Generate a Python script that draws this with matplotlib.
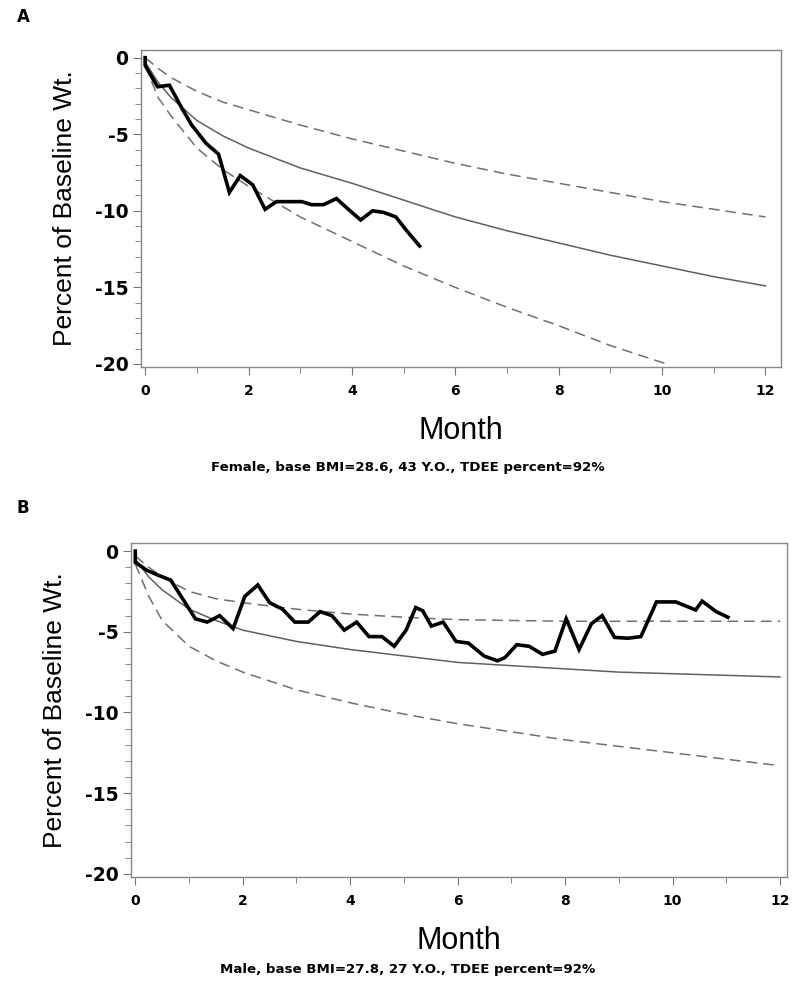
import matplotlib
matplotlib.use("Agg")
import matplotlib.pyplot as plt
from matplotlib import font_manager
from matplotlib.ticker import MultipleLocator

plt.rcParams["axes.unicode_minus"] = False

# pick a narrow font for the big axis labels if there is one
label_font = "DejaVu Sans"
for name in ["Liberation Sans Narrow", "Liberation Sans"]:
    try:
        font_manager.findfont(name, fallback_to_default=False)
        label_font = name
        break
    except Exception:
        pass

# model curve months (shared by both panels)
model_month = [0, 0.25, 0.5, 1, 1.5, 2, 3, 4, 5, 6, 7, 8, 9, 10, 11, 12]

# Panel A - female
a_obs_month = [0, 0.0, 0.24, 0.47, 0.71, 0.9, 1.18, 1.42, 1.63, 1.84, 2.08, 2.32,
               2.54, 3.03, 3.22, 3.45, 3.70, 3.93, 4.17, 4.40, 4.61, 4.85, 5.06, 5.31]
a_obs_pct = [0, -0.5, -1.9, -1.8, -3.3, -4.4, -5.6, -6.3, -8.8, -7.7, -8.3, -9.9,
             -9.4, -9.4, -9.6, -9.6, -9.2, -9.9, -10.6, -10.0, -10.1, -10.4, -11.3, -12.3]
a_mid = [-0.3, -1.6, -2.6, -4.1, -5.1, -5.9, -7.2, -8.2, -9.3, -10.4, -11.3, -12.1,
         -12.9, -13.6, -14.3, -14.9]
a_upper = [0, -0.7, -1.3, -2.2, -2.9, -3.4, -4.4, -5.3, -6.1, -6.9, -7.6, -8.2,
           -8.8, -9.4, -9.9, -10.4]
a_lower_month = [0, 0.25, 0.5, 1, 1.5, 2, 3, 4, 5, 6, 7, 8, 9, 10, 10.1]
a_lower = [-0.5, -2.6, -3.8, -5.9, -7.3, -8.4, -10.4, -12.0, -13.6, -15.0, -16.3,
           -17.5, -18.8, -19.9, -20.0]

# Panel B - male
b_obs_month = [0, 0, 0.22, 0.43, 0.66, 0.89, 1.12, 1.34, 1.57, 1.82, 2.04, 2.28,
               2.50, 2.74, 2.97, 3.22, 3.44, 3.66, 3.89, 4.12, 4.35, 4.59, 4.82,
               5.04, 5.22, 5.35, 5.51, 5.73, 5.97, 6.2, 6.49, 6.74, 6.88, 7.10,
               7.33, 7.58, 7.81, 8.02, 8.26, 8.49, 8.69, 8.92, 9.17, 9.41, 9.70,
               10.06, 10.43, 10.55, 10.81, 11.03]
b_obs_pct = [0, -0.7, -1.2, -1.5, -1.8, -3.0, -4.2, -4.4, -4.0, -4.8, -2.8, -2.1,
             -3.2, -3.6, -4.4, -4.4, -3.75, -4.0, -4.9, -4.4, -5.3, -5.3, -5.9,
             -4.9, -3.5, -3.7, -4.65, -4.4, -5.6, -5.7, -6.5, -6.8, -6.6, -5.8,
             -5.9, -6.4, -6.2, -4.2, -6.1, -4.5, -4.0, -5.35, -5.4, -5.3, -3.15,
             -3.15, -3.65, -3.1, -3.75, -4.1]
b_mid = [-0.5, -1.6, -2.4, -3.6, -4.3, -4.9, -5.6, -6.1, -6.5, -6.9, -7.1, -7.3,
         -7.5, -7.6, -7.7, -7.8]
b_upper = [-0.3, -1.0, -1.6, -2.5, -2.95, -3.2, -3.6, -3.9, -4.1, -4.25, -4.3,
           -4.35, -4.35, -4.35, -4.35, -4.35]
b_lower = [-0.8, -2.8, -4.3, -5.9, -6.8, -7.5, -8.6, -9.4, -10.1, -10.7, -11.2,
           -11.7, -12.1, -12.5, -12.9, -13.3]

captions = ["Female, base BMI=28.6, 43 Y.O., TDEE percent=92%",
            "Male, base BMI=27.8, 27 Y.O., TDEE percent=92%"]

fig = plt.figure(figsize=(8, 9.92), dpi=100)
axA = fig.add_axes([0.17625, 0.630, 0.80, 0.3196])
axB = fig.add_axes([0.16375, 0.1159, 0.82, 0.3367])

panels = [
    (axA, a_obs_month, a_obs_pct, a_mid, a_upper, a_lower_month, a_lower, 12.3),
    (axB, b_obs_month, b_obs_pct, b_mid, b_upper, model_month, b_lower, 12.13),
]

for ax, om, op, mid, up, lm, lo, xmax in panels:
    ax.plot(model_month, mid, color="#606060", lw=1.1)
    ax.plot(model_month, up, color="#707070", lw=1.1, dashes=(7, 4))
    ax.plot(lm, lo, color="#707070", lw=1.1, dashes=(7, 4))
    ax.plot(om, op, color="black", lw=2.6, solid_joinstyle="miter")
    ax.set_xlim(-0.08, xmax)
    ax.set_ylim(-20.2, 0.5)
    ax.xaxis.set_major_locator(MultipleLocator(2))
    ax.xaxis.set_minor_locator(MultipleLocator(1))
    ax.yaxis.set_major_locator(MultipleLocator(5))
    ax.yaxis.set_minor_locator(MultipleLocator(1))
    ax.tick_params(which="both", direction="out", color="#777777")
    ax.tick_params(which="major", length=6)
    ax.tick_params(which="minor", length=4)
    ax.tick_params(axis="y", labelsize=13.5, pad=3)
    ax.tick_params(axis="x", labelsize=10, pad=6)
    for lab in ax.get_xticklabels() + ax.get_yticklabels():
        lab.set_fontweight("bold")
    for sp in ax.spines.values():
        sp.set_color("#888888")
        sp.set_linewidth(1.0)
    ax.set_xlabel("Month", fontsize=22, family=label_font, labelpad=13)
    ax.set_ylabel("Percent of Baseline Wt.", fontsize=19, family=label_font, labelpad=13)

fig.text(0.021, 0.983, "A", fontsize=12, fontweight="bold", va="center")
fig.text(0.021, 0.488, "B", fontsize=12, fontweight="bold", va="center")
fig.text(0.51, 0.529, captions[0], fontsize=9.6, fontweight="bold", ha="center", va="center")
fig.text(0.51, 0.023, captions[1], fontsize=9.6, fontweight="bold", ha="center", va="center")

fig.savefig("out.png", dpi=100)
